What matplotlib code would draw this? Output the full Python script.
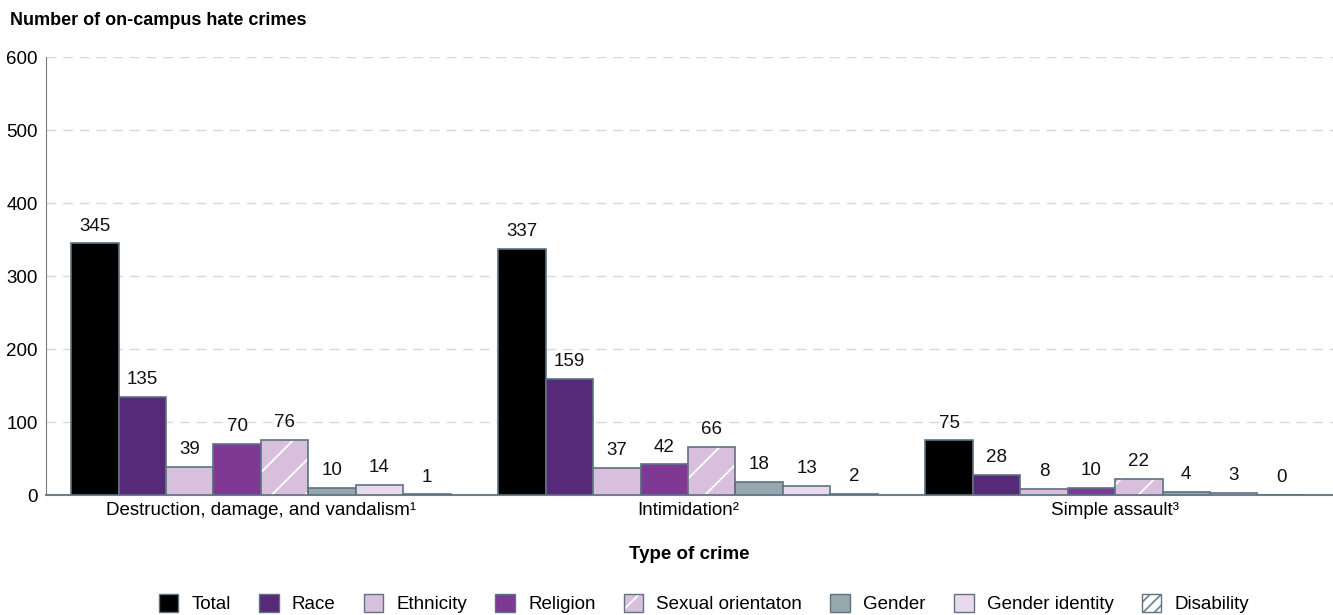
import numpy as np
import matplotlib
matplotlib.use('Agg')
import matplotlib.pyplot as plt
from matplotlib.patches import Patch
from matplotlib.legend_handler import HandlerTuple

plt.rcParams['font.family'] = ['Liberation Sans', 'DejaVu Sans']
plt.rcParams['hatch.linewidth'] = 1.3

crime_types = ['Destruction, damage, and vandalism\u00b9', 'Intimidation\u00b2', 'Simple assault\u00b3']
series = ['Total', 'Race', 'Ethnicity', 'Religion', 'Sexual orientaton', 'Gender', 'Gender identity', 'Disability']
total = [345, 337, 75]
race = [135, 159, 28]
ethnicity = [39, 37, 8]
religion = [70, 42, 10]
sexual_orientation = [76, 66, 22]
gender = [10, 18, 4]
gender_identity = [14, 13, 3]
disability = [1, 2, 0]

values = [total, race, ethnicity, religion, sexual_orientation, gender, gender_identity, disability]
colors = ['#000000', '#562a78', '#d8bfdc', '#7f3894', '#d8bfdc', '#97a7ae', '#e9d9ec', '#ffffff']
edge = '#5d7282'

fig = plt.figure(figsize=(13.33, 6.15), dpi=100)
ax = fig.add_axes([0.0345, 0.195, 0.9655, 0.712])

x = np.arange(len(crime_types))
w = 0.111
for i, (name, vals) in enumerate(zip(series, values)):
    pos = x - 3.5 * w + i * w
    if name == 'Sexual orientaton':
        ax.bar(pos, vals, w, color=colors[i], edgecolor='white', hatch='/', linewidth=0, zorder=3)
        ax.bar(pos, vals, w, color='none', edgecolor=edge, linewidth=1.2, zorder=4)
    elif name == 'Disability':
        ax.bar(pos, vals, w, color='white', edgecolor='#6f8a99', hatch='//', linewidth=0, zorder=3)
        ax.bar(pos, vals, w, color='none', edgecolor=edge, linewidth=1.2, zorder=4)
    else:
        ax.bar(pos, vals, w, color=colors[i], edgecolor=edge, linewidth=1.2, zorder=3)
    for p, v in zip(pos, vals):
        ax.text(p, v + 12, str(v), ha='center', va='bottom', fontsize=13.5, color='#111111')

ax.set_xlim(-0.503, 2.51)
ax.set_ylim(0, 600)
ax.set_yticks([0, 100, 200, 300, 400, 500, 600])
ax.set_xticks(x)
ax.set_xticklabels(crime_types)
ax.tick_params(axis='y', length=0, labelsize=13.5, pad=6)
ax.tick_params(axis='x', length=0, labelsize=13.5, pad=5)
ax.grid(axis='y', color='#d3dadd', linestyle=(0, (7, 5)), linewidth=1, zorder=0)
for s in ['top', 'right']:
    ax.spines[s].set_visible(False)
ax.spines['left'].set_color('#6e7f8a')
ax.spines['bottom'].set_color('#6e7f8a')
ax.spines['bottom'].set_linewidth(1.5)

fig.text(0.0075, 0.967, 'Number of on-campus hate crimes', fontsize=13, fontweight='bold', va='center')
fig.text(0.517, 0.099, 'Type of crime', fontsize=13.5, fontweight='bold', ha='center', va='center')

handles = []
for i, name in enumerate(series):
    if name == 'Sexual orientaton':
        handles.append((Patch(facecolor=colors[i], edgecolor='white', hatch='/', linewidth=0),
                        Patch(facecolor='none', edgecolor=edge)))
    elif name == 'Disability':
        handles.append((Patch(facecolor='white', edgecolor='#6f8a99', hatch='///', linewidth=0),
                        Patch(facecolor='none', edgecolor=edge)))
    else:
        handles.append(Patch(facecolor=colors[i], edgecolor=edge))
fig.legend(handles=handles, labels=series, loc='center', bbox_to_anchor=(0.528, 0.018), ncol=8, frameon=False,
           fontsize=13.5, handlelength=1.05, handleheight=1.05, handletextpad=0.7, columnspacing=1.5,
           handler_map={tuple: HandlerTuple(ndivide=1, pad=0)})

fig.savefig('out.png', dpi=100)
